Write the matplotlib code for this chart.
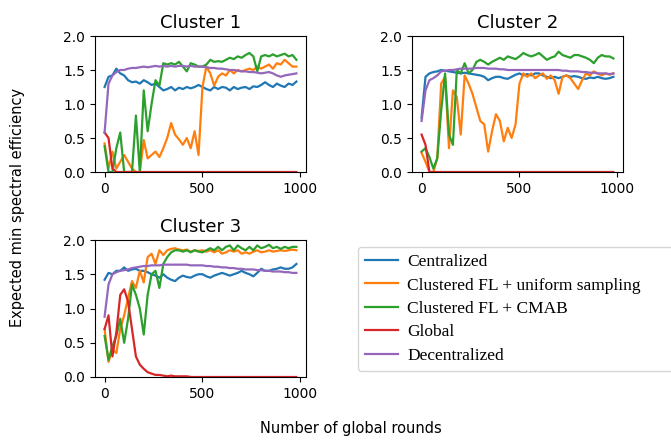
import matplotlib
matplotlib.use("Agg")
import matplotlib.pyplot as plt

rounds = list(range(0, 1000, 20))

labels = ["Centralized", "Clustered FL + uniform sampling", "Clustered FL + CMAB",
          "Global", "Decentralized"]
colors = ["#1f77b4", "#ff7f0e", "#2ca02c", "#d62728", "#9467bd"]

# ---- Cluster 1 ----
c1_centralized = [1.25, 1.40, 1.42, 1.52, 1.45, 1.42, 1.35, 1.32, 1.33, 1.30,
                  1.35, 1.32, 1.28, 1.30, 1.25, 1.20, 1.22, 1.25, 1.20, 1.24,
                  1.22, 1.25, 1.23, 1.25, 1.28, 1.25, 1.22, 1.20, 1.25, 1.22,
                  1.25, 1.24, 1.20, 1.25, 1.22, 1.24, 1.25, 1.22, 1.26, 1.25,
                  1.28, 1.32, 1.28, 1.25, 1.30, 1.27, 1.25, 1.30, 1.28, 1.33]
c1_uniform = [0.42, 0.05, 0.30, 0.05, 0.15, 0.25, 0.15, 0.05, 0.00, 0.00,
              0.47, 0.20, 0.25, 0.30, 0.22, 0.35, 0.50, 0.72, 0.55, 0.48,
              0.40, 0.50, 0.35, 0.60, 0.25, 1.25, 1.55, 1.45, 1.27, 1.40,
              1.45, 1.42, 1.50, 1.45, 1.50, 1.48, 1.50, 1.52, 1.50, 1.55,
              1.52, 1.55, 1.58, 1.52, 1.60, 1.58, 1.65, 1.60, 1.55, 1.55]
c1_cmab = [0.38, 0.00, 0.00, 0.35, 0.58, 0.00, 0.00, 0.00, 0.83, 0.00,
           1.20, 0.60, 1.00, 1.35, 1.27, 1.60, 1.58, 1.60, 1.58, 1.62,
           1.55, 1.48, 1.60, 1.58, 1.55, 1.55, 1.58, 1.65, 1.62, 1.63,
           1.62, 1.65, 1.68, 1.66, 1.70, 1.68, 1.72, 1.75, 1.70, 1.48,
           1.70, 1.72, 1.70, 1.73, 1.70, 1.72, 1.74, 1.70, 1.72, 1.65]
c1_global = [0.58, 0.50, 0.05, 0.00, 0.00, 0.00, 0.00, 0.00, 0.00, 0.00,
             0.00, 0.00, 0.00, 0.00, 0.00, 0.00, 0.00, 0.00, 0.00, 0.00,
             0.00, 0.00, 0.00, 0.00, 0.00, 0.00, 0.00, 0.00, 0.00, 0.00,
             0.00, 0.00, 0.00, 0.00, 0.00, 0.00, 0.00, 0.00, 0.00, 0.00,
             0.00, 0.00, 0.00, 0.00, 0.00, 0.00, 0.00, 0.00, 0.00, 0.00]
c1_decentralized = [0.58, 1.30, 1.42, 1.47, 1.50, 1.50, 1.52, 1.53, 1.53, 1.54,
                    1.55, 1.54, 1.55, 1.56, 1.55, 1.56, 1.55, 1.56, 1.55, 1.56,
                    1.56, 1.55, 1.56, 1.55, 1.55, 1.55, 1.54, 1.53, 1.53, 1.52,
                    1.52, 1.51, 1.50, 1.50, 1.49, 1.48, 1.48, 1.47, 1.47, 1.46,
                    1.45, 1.46, 1.47, 1.45, 1.42, 1.40, 1.42, 1.43, 1.44, 1.45]

# ---- Cluster 2 ----
c2_centralized = [0.80, 1.40, 1.45, 1.47, 1.48, 1.50, 1.49, 1.48, 1.47, 1.46,
                  1.45, 1.46, 1.45, 1.44, 1.43, 1.42, 1.40, 1.35, 1.38, 1.40,
                  1.40, 1.38, 1.37, 1.40, 1.43, 1.45, 1.42, 1.44, 1.42, 1.45,
                  1.45, 1.42, 1.40, 1.38, 1.40, 1.38, 1.40, 1.42, 1.40, 1.41,
                  1.40, 1.38, 1.37, 1.39, 1.38, 1.40, 1.38, 1.37, 1.38, 1.40]
c2_uniform = [0.28, 0.15, 0.00, 0.00, 0.20, 1.30, 1.40, 0.35, 1.20, 1.10,
              0.55, 1.42, 1.30, 1.15, 0.95, 0.75, 0.70, 0.30, 0.60, 0.85,
              0.75, 0.45, 0.65, 0.50, 0.70, 1.30, 1.45, 1.40, 1.45, 1.38,
              1.42, 1.45, 1.37, 1.42, 1.35, 1.15, 1.40, 1.42, 1.38, 1.30,
              1.22, 1.35, 1.45, 1.42, 1.48, 1.45, 1.42, 1.45, 1.43, 1.45]
c2_cmab = [0.30, 0.35, 0.22, 0.05, 0.20, 0.90, 1.45, 0.55, 0.40, 1.50,
           1.45, 1.60, 1.45, 1.50, 1.62, 1.65, 1.62, 1.58, 1.62, 1.65,
           1.68, 1.65, 1.70, 1.68, 1.66, 1.70, 1.75, 1.72, 1.70, 1.72,
           1.75, 1.70, 1.65, 1.68, 1.70, 1.77, 1.72, 1.70, 1.68, 1.72,
           1.72, 1.70, 1.68, 1.65, 1.60, 1.68, 1.72, 1.70, 1.70, 1.67]
c2_global = [0.55, 0.40, 0.00, 0.00, 0.00, 0.00, 0.00, 0.00, 0.00, 0.00,
             0.00, 0.00, 0.00, 0.00, 0.00, 0.00, 0.00, 0.00, 0.00, 0.00,
             0.00, 0.00, 0.00, 0.00, 0.00, 0.00, 0.00, 0.00, 0.00, 0.00,
             0.00, 0.00, 0.00, 0.00, 0.00, 0.00, 0.00, 0.00, 0.00, 0.00,
             0.00, 0.00, 0.00, 0.00, 0.00, 0.00, 0.00, 0.00, 0.00, 0.00]
c2_decentralized = [0.75, 1.20, 1.35, 1.38, 1.42, 1.48, 1.49, 1.50, 1.50, 1.51,
                    1.52, 1.52, 1.52, 1.52, 1.53, 1.53, 1.53, 1.52, 1.52, 1.52,
                    1.51, 1.51, 1.50, 1.50, 1.50, 1.50, 1.50, 1.50, 1.50, 1.50,
                    1.50, 1.50, 1.50, 1.50, 1.50, 1.50, 1.49, 1.49, 1.48, 1.48,
                    1.48, 1.47, 1.47, 1.46, 1.46, 1.45, 1.45, 1.45, 1.44, 1.45]

# ---- Cluster 3 ----
c3_centralized = [1.42, 1.52, 1.50, 1.55, 1.55, 1.60, 1.55, 1.57, 1.58, 1.55,
                  1.55, 1.53, 1.50, 1.48, 1.45, 1.50, 1.45, 1.42, 1.40, 1.45,
                  1.48, 1.46, 1.45, 1.48, 1.50, 1.50, 1.47, 1.45, 1.48, 1.50,
                  1.52, 1.50, 1.48, 1.50, 1.52, 1.55, 1.52, 1.50, 1.47, 1.52,
                  1.58, 1.55, 1.55, 1.57, 1.58, 1.60, 1.58, 1.58, 1.60, 1.65]
c3_uniform = [0.70, 0.22, 0.40, 0.35, 0.70, 0.90, 1.15, 1.40, 1.30, 1.55,
              1.38, 1.75, 1.80, 1.65, 1.85, 1.78, 1.85, 1.87, 1.88, 1.86,
              1.85, 1.86, 1.83, 1.85, 1.84, 1.85, 1.83, 1.85, 1.82, 1.85,
              1.80, 1.82, 1.85, 1.83, 1.85, 1.80, 1.82, 1.80, 1.83, 1.85,
              1.82, 1.83, 1.85, 1.83, 1.84, 1.85, 1.84, 1.85, 1.86, 1.85]
c3_cmab = [0.60, 0.25, 0.45, 0.60, 0.85, 0.50, 0.85, 1.35, 1.20, 1.00,
           0.62, 1.20, 1.50, 1.55, 1.30, 1.65, 1.75, 1.82, 1.85, 1.85,
           1.83, 1.85, 1.82, 1.85, 1.83, 1.82, 1.85, 1.88, 1.85, 1.90,
           1.85, 1.90, 1.92, 1.85, 1.92, 1.88, 1.85, 1.90, 1.85, 1.92,
           1.88, 1.90, 1.93, 1.88, 1.90, 1.87, 1.90, 1.88, 1.90, 1.90]
c3_global = [0.70, 0.90, 0.30, 0.65, 1.20, 1.28, 1.10, 0.70, 0.30, 0.18,
             0.12, 0.07, 0.05, 0.03, 0.03, 0.02, 0.01, 0.02, 0.01, 0.01,
             0.01, 0.01, 0.00, 0.00, 0.00, 0.00, 0.00, 0.00, 0.00, 0.00,
             0.00, 0.00, 0.00, 0.00, 0.00, 0.00, 0.00, 0.00, 0.00, 0.00,
             0.00, 0.00, 0.00, 0.00, 0.00, 0.00, 0.00, 0.00, 0.00, 0.00]
c3_decentralized = [0.88, 1.35, 1.50, 1.53, 1.55, 1.56, 1.57, 1.59, 1.60, 1.61,
                    1.62, 1.62, 1.63, 1.63, 1.63, 1.64, 1.64, 1.64, 1.64, 1.64,
                    1.64, 1.64, 1.63, 1.63, 1.63, 1.63, 1.62, 1.62, 1.61, 1.61,
                    1.60, 1.60, 1.59, 1.59, 1.58, 1.58, 1.57, 1.57, 1.57, 1.56,
                    1.56, 1.55, 1.55, 1.54, 1.54, 1.54, 1.53, 1.53, 1.52, 1.52]

clusters = [
    ("Cluster 1", [c1_centralized, c1_uniform, c1_cmab, c1_global, c1_decentralized]),
    ("Cluster 2", [c2_centralized, c2_uniform, c2_cmab, c2_global, c2_decentralized]),
    ("Cluster 3", [c3_centralized, c3_uniform, c3_cmab, c3_global, c3_decentralized]),
]

fig = plt.figure(figsize=(6.71, 4.41), dpi=100)
W, H = 671, 441
boxes = [(95, 36, 306, 172), (412, 36, 623, 172), (95, 240, 306, 377)]

handles = None
for (title, series), (l, t, r, b) in zip(clusters, boxes):
    ax = fig.add_axes([l / W, 1 - b / H, (r - l) / W, (b - t) / H])
    hs = []
    for vals, lab, col in zip(series, labels, colors):
        h, = ax.plot(rounds, vals, color=col, lw=1.6, label=lab)
        hs.append(h)
    handles = hs
    ax.set_ylim(0, 2.0)
    ax.set_yticks([0.0, 0.5, 1.0, 1.5, 2.0])
    ax.set_xticks([0, 500, 1000])
    ax.tick_params(labelsize=10)
    ax.set_title(title, fontsize=13)

fig.legend(handles, labels, loc="upper left",
           bbox_to_anchor=(358 / W, 1 - 371 / H, (700 - 358) / W, 124 / H),
           mode="expand",
           prop={"family": "Liberation Serif", "size": 12.5}, frameon=True,
           borderaxespad=0.0, labelspacing=0.42, handlelength=1.9,
           handletextpad=0.55, borderpad=0.4)

fig.text(18 / W, 1 - 207 / H, "Expected min spectral efficiency", rotation=90,
         ha="center", va="center", fontsize=10.5)
fig.text(351 / W, 1 - 428 / H, "Number of global rounds", ha="center", va="center",
         fontsize=10.5)

fig.savefig("out.png", dpi=100)
